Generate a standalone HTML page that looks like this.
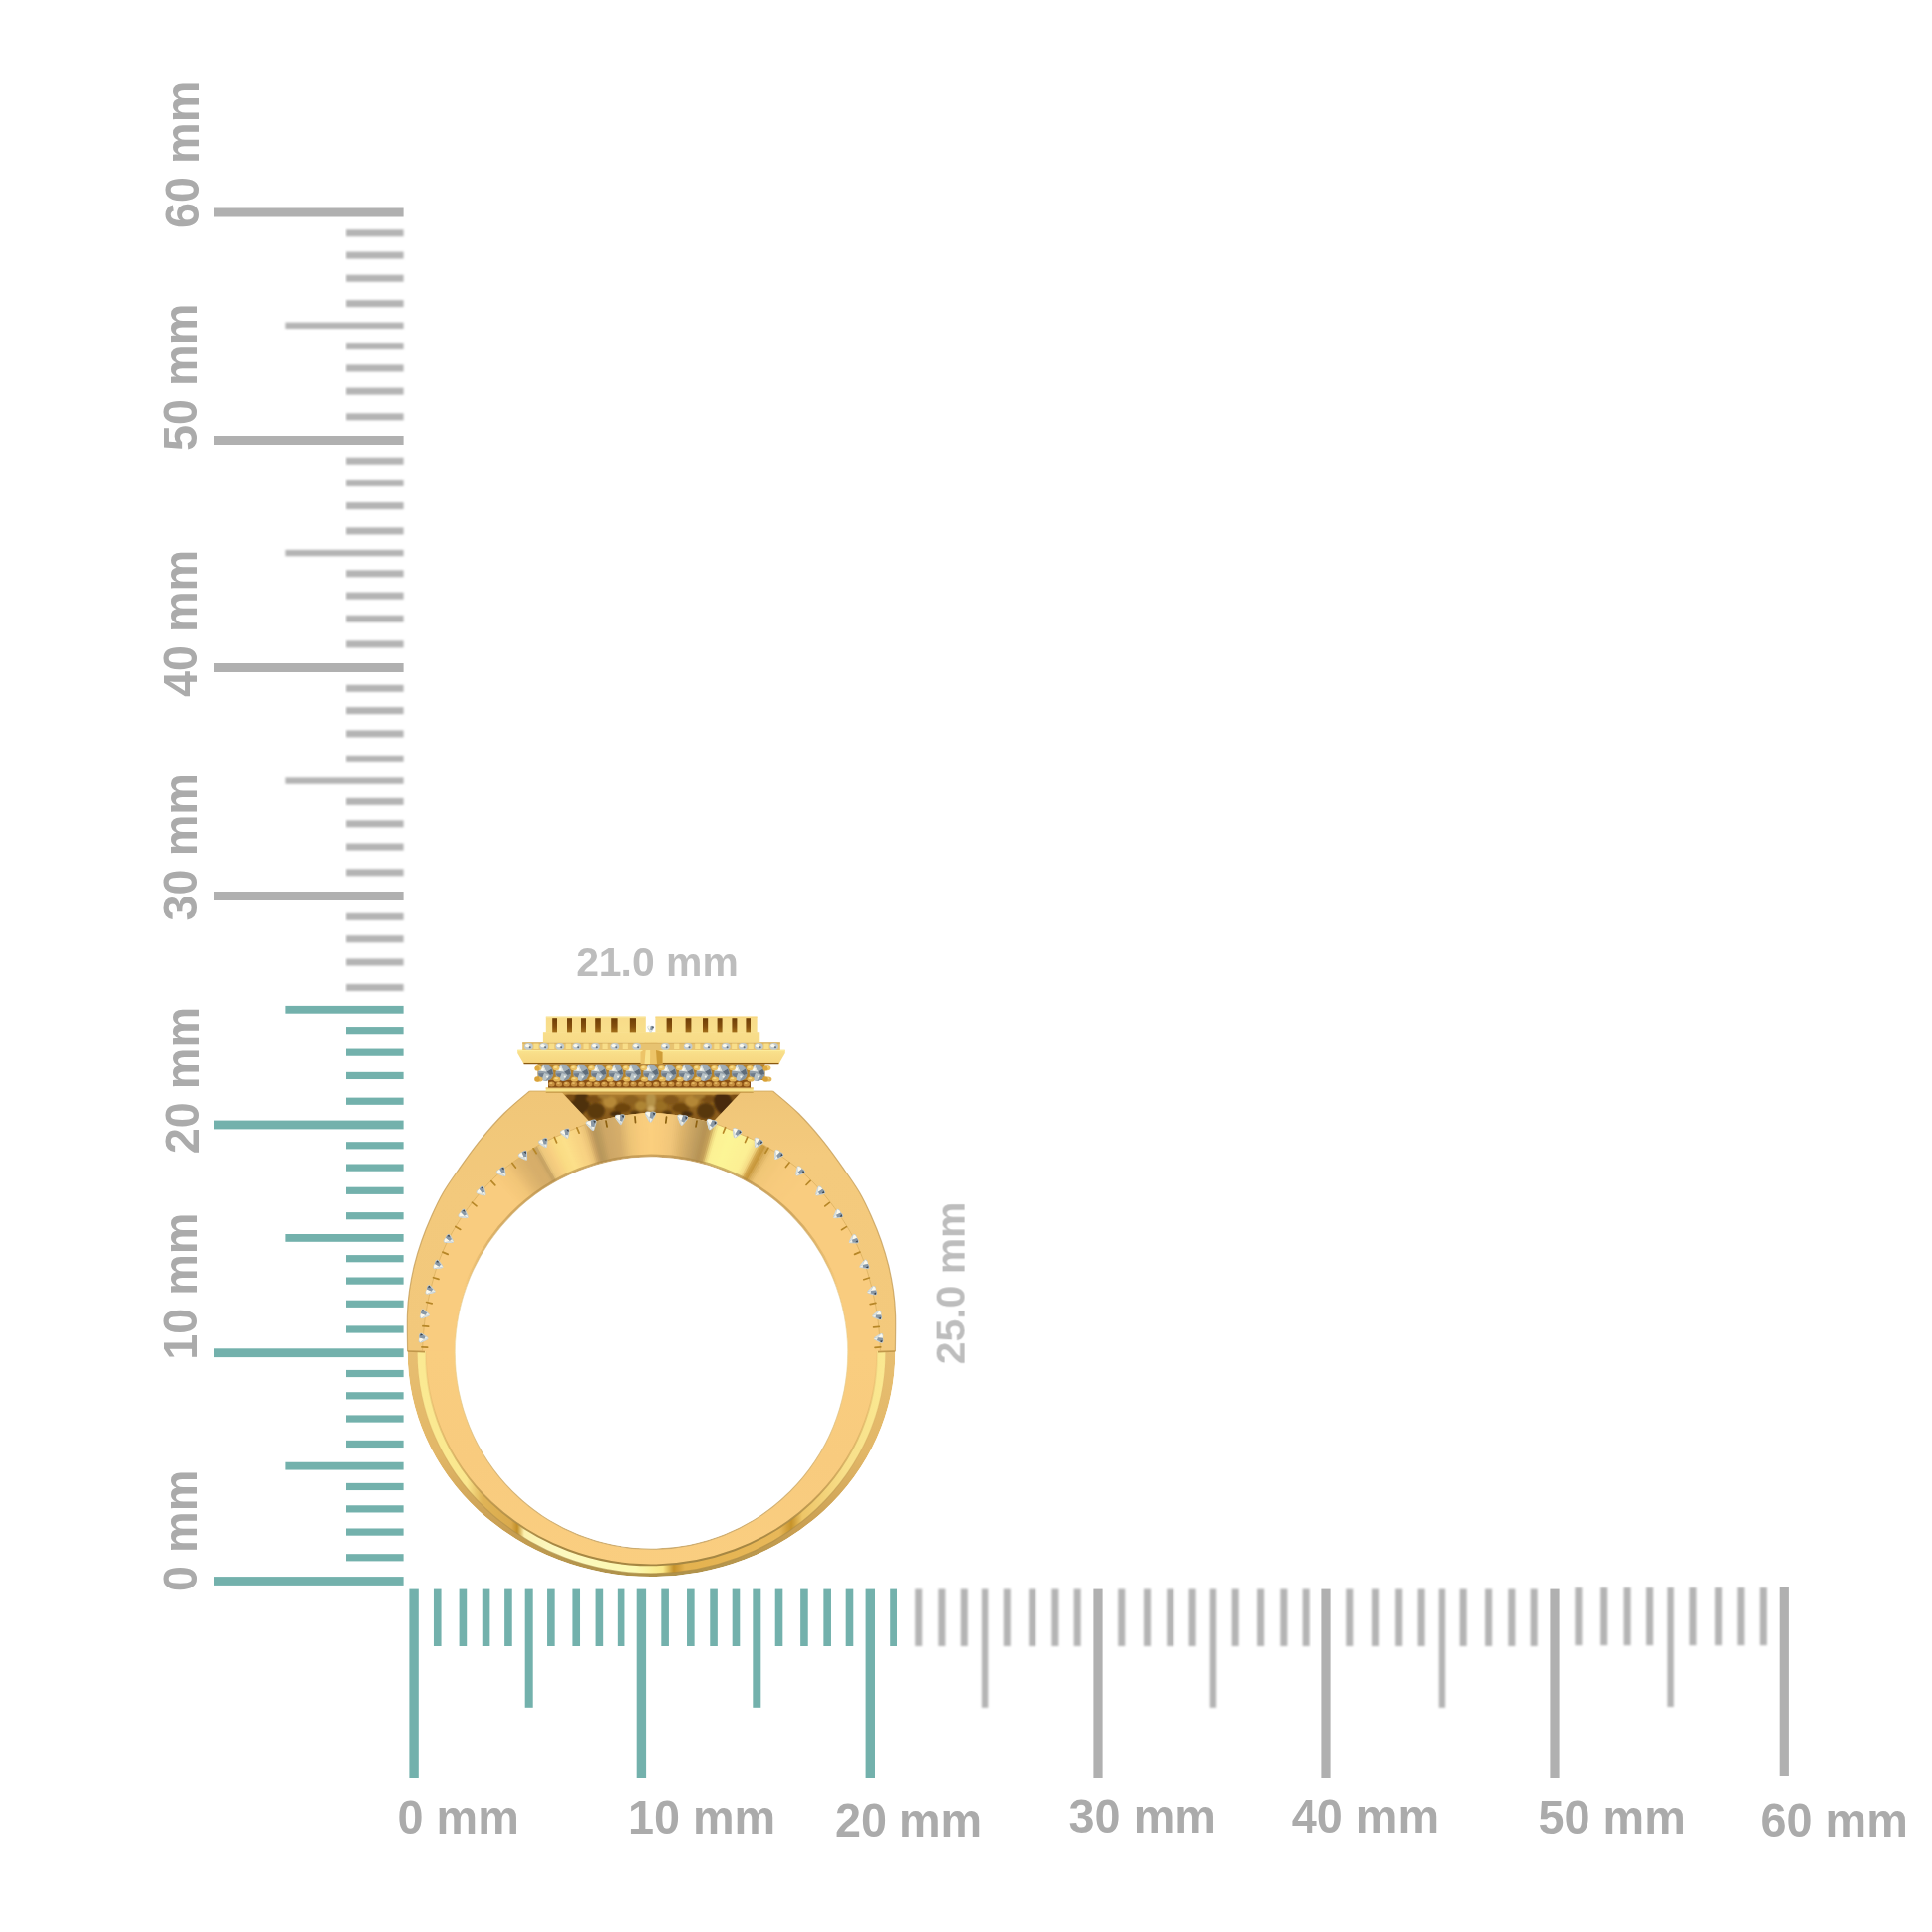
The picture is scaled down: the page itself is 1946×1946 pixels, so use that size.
<!DOCTYPE html>
<html lang="en"><head><meta charset="utf-8"><title>Ring dimensions</title>
<style>html,body{margin:0;padding:0;background:#fff}svg{display:block}</style></head>
<body>
<svg width="1946" height="1946" viewBox="0 0 1946 1946">
<defs>
<filter id="b0" x="-5%" y="-5%" width="110%" height="110%"><feGaussianBlur stdDeviation="0.55"/></filter>
<filter id="b1" x="-5%" y="-5%" width="110%" height="110%"><feGaussianBlur stdDeviation="1.0"/></filter>

<filter id="hedge" filterUnits="userSpaceOnUse" x="380" y="1000" width="560" height="620" color-interpolation-filters="sRGB"><feColorMatrix type="matrix" values="0.99 0 0 0 0  0 0.978 0 0 0  0 0 0.925 0 0  0 0 0 1 0"/></filter>
<filter id="rb3" x="-20%" y="-20%" width="140%" height="140%"><feGaussianBlur stdDeviation="3"/></filter>
<filter id="rb1" x="-20%" y="-20%" width="140%" height="140%"><feGaussianBlur stdDeviation="1.2"/></filter>
<filter id="rb05" x="-5%" y="-5%" width="110%" height="110%"><feGaussianBlur stdDeviation="0.5"/></filter>
<linearGradient id="gLface" x1="0" y1="1099" x2="0" y2="1361" gradientUnits="userSpaceOnUse">
 <stop offset="0" stop-color="#f2ca82"/><stop offset="0.4" stop-color="#f5ce86"/><stop offset="1" stop-color="#f4cd85"/></linearGradient>
<linearGradient id="gRface" x1="0" y1="1099" x2="0" y2="1361" gradientUnits="userSpaceOnUse">
 <stop offset="0" stop-color="#f1c982"/><stop offset="0.25" stop-color="#f6cf87"/><stop offset="1" stop-color="#f5ce86"/></linearGradient>
<linearGradient id="gLowFace" x1="0" y1="1361" x2="0" y2="1580" gradientUnits="userSpaceOnUse">
 <stop offset="0" stop-color="#fcd289"/><stop offset="0.5" stop-color="#fbd088"/><stop offset="1" stop-color="#fdd38a"/></linearGradient>
<linearGradient id="gBevel" x1="0" y1="1361" x2="0" y2="1588" gradientUnits="userSpaceOnUse">
 <stop offset="0" stop-color="#e9c27a"/><stop offset="0.45" stop-color="#e4bb70"/><stop offset="0.8" stop-color="#caa258"/><stop offset="1" stop-color="#b09450"/></linearGradient>
<linearGradient id="gRim" x1="0" y1="1165" x2="0" y2="1300" gradientUnits="userSpaceOnUse">
 <stop offset="0" stop-color="#b08a48" stop-opacity="0.6"/><stop offset="0.45" stop-color="#b08a48" stop-opacity="0.5"/><stop offset="1" stop-color="#b08a48" stop-opacity="0"/></linearGradient>
<linearGradient id="gHoleLine" x1="0" y1="1165" x2="0" y2="1560" gradientUnits="userSpaceOnUse">
 <stop offset="0" stop-color="#c0985a" stop-opacity="0.8"/><stop offset="0.3" stop-color="#d8b878" stop-opacity="0.5"/><stop offset="0.5" stop-color="#ecd8a0" stop-opacity="0.5"/>
 <stop offset="0.8" stop-color="#d0b078" stop-opacity="0.7"/><stop offset="1" stop-color="#c8a870" stop-opacity="0.9"/></linearGradient>
<linearGradient id="gLine" x1="0" y1="1361" x2="0" y2="1588" gradientUnits="userSpaceOnUse">
 <stop offset="0" stop-color="#d8b06a" stop-opacity="0.15"/><stop offset="0.45" stop-color="#c9a058" stop-opacity="0.55"/><stop offset="0.85" stop-color="#a88a48" stop-opacity="1"/><stop offset="1" stop-color="#a88a48" stop-opacity="1"/></linearGradient>

<linearGradient id="gStrip" x1="410" y1="0" x2="902" y2="0" gradientUnits="userSpaceOnUse"><stop offset="0.0000" stop-color="#fef0a0"/><stop offset="0.1220" stop-color="#fdec9a"/><stop offset="0.1545" stop-color="#e2b85e"/><stop offset="0.2134" stop-color="#dcae52"/><stop offset="0.2256" stop-color="#c4922c"/><stop offset="0.2398" stop-color="#fff6bc"/><stop offset="0.3049" stop-color="#ffffd0"/><stop offset="0.4675" stop-color="#ffffc0"/><stop offset="0.5244" stop-color="#fdec90"/><stop offset="0.5467" stop-color="#c8952e"/><stop offset="0.5691" stop-color="#e6b656"/><stop offset="0.7622" stop-color="#eabc60"/><stop offset="0.7866" stop-color="#c8962e"/><stop offset="0.8089" stop-color="#f0ca70"/><stop offset="0.8943" stop-color="#fae494"/><stop offset="1.0000" stop-color="#fef0a0"/></linearGradient>
<linearGradient id="gGallery" x1="0" y1="1100" x2="0" y2="1132" gradientUnits="userSpaceOnUse">
 <stop offset="0" stop-color="#b8893a"/><stop offset="0.3" stop-color="#946824"/><stop offset="1" stop-color="#86591a"/></linearGradient>
<linearGradient id="gPlate" x1="0" y1="1057" x2="0" y2="1072" gradientUnits="userSpaceOnUse">
 <stop offset="0" stop-color="#fdea9a"/><stop offset="0.4" stop-color="#fae192"/><stop offset="0.85" stop-color="#f8dc8c"/><stop offset="1" stop-color="#ecc878"/></linearGradient>
<linearGradient id="gComb" x1="0" y1="1024" x2="0" y2="1050" gradientUnits="userSpaceOnUse">
 <stop offset="0" stop-color="#fae094"/><stop offset="0.5" stop-color="#fbe497"/><stop offset="1" stop-color="#f9e092"/></linearGradient>
<linearGradient id="gSlot" x1="0" y1="1025" x2="0" y2="1040" gradientUnits="userSpaceOnUse">
 <stop offset="0" stop-color="#6e3f08"/><stop offset="0.6" stop-color="#86520e"/><stop offset="1" stop-color="#a8741e"/></linearGradient>

<clipPath id="cpBand"><path d="M425.6,1361.0C425.7,1358.8 425.7,1354.0 426.2,1348.0C426.7,1342.0 427.4,1333.1 428.6,1325.0C429.8,1316.9 431.5,1308.1 433.6,1299.5C435.7,1290.9 437.9,1282.2 441.0,1273.5C444.1,1264.8 447.8,1256.0 452.2,1247.5C456.6,1239.0 461.8,1230.5 467.4,1222.5C472.9,1214.5 479.1,1206.5 485.5,1199.3C491.9,1192.0 498.8,1185.0 505.8,1179.0C512.8,1173.0 520.5,1167.8 527.5,1163.0C534.5,1158.2 540.8,1154.2 547.8,1150.5C554.8,1146.8 562.1,1144.0 569.6,1140.8C577.1,1137.5 589.1,1132.6 593.0,1131.0C598.2,1129.9 614.0,1125.9 624.5,1124.2C635.0,1122.5 645.5,1121.0 656.0,1121.0C666.5,1121.0 677.0,1122.5 687.5,1124.2C698.0,1125.9 713.8,1129.9 719.0,1131.0C722.9,1132.6 734.9,1137.5 742.4,1140.8C749.9,1144.0 757.2,1146.8 764.2,1150.5C771.2,1154.2 777.5,1158.2 784.5,1163.0C791.5,1167.8 799.2,1173.0 806.2,1179.0C813.2,1185.0 820.1,1192.0 826.5,1199.3C832.9,1206.5 839.1,1214.5 844.6,1222.5C850.1,1230.5 855.4,1239.0 859.8,1247.5C864.2,1256.0 867.9,1264.8 871.0,1273.5C874.1,1282.2 876.3,1290.9 878.4,1299.5C880.5,1308.1 882.2,1316.9 883.4,1325.0C884.6,1333.1 885.3,1342.0 885.8,1348.0C886.3,1354.0 886.3,1358.8 886.4,1361.0L853.694,1361.0A197.7,197.7 0 0 0 656.0,1164.800A197.7,197.7 0 0 0 458.306,1361.0Z"/></clipPath>
<clipPath id="cpLow"><path d="M410.705,1361.0A245.3,225.5 0 0 0 656.0,1588.0A245.3,225.5 0 0 0 901.295,1361.0L853.694,1361.0A197.7,197.7 0 0 1 656.0,1560.2A197.7,197.7 0 0 1 458.306,1361.0Z"/></clipPath>
</defs>
<rect width="1946" height="1946" fill="#ffffff"/>
<g fill="#b4b4b4" filter="url(#b1)"><rect x="349.0" y="991.02" width="57.6" height="7.0"/><rect x="349.0" y="965.53" width="57.6" height="7.0"/><rect x="349.0" y="942.25" width="57.6" height="7.0"/><rect x="349.0" y="919.87" width="57.6" height="7.0"/><rect x="349.0" y="875.27" width="57.6" height="7.0"/><rect x="349.0" y="849.54" width="57.6" height="7.0"/><rect x="349.0" y="826.31" width="57.6" height="7.0"/><rect x="349.0" y="803.88" width="57.6" height="7.0"/><rect x="287.4" y="783.35" width="119.2" height="6.4"/><rect x="349.0" y="760.82" width="57.6" height="7.0"/><rect x="349.0" y="735.39" width="57.6" height="7.0"/><rect x="349.0" y="712.16" width="57.6" height="7.0"/><rect x="349.0" y="689.83" width="57.6" height="7.0"/><rect x="349.0" y="645.37" width="57.6" height="7.0"/><rect x="349.0" y="619.75" width="57.6" height="7.0"/><rect x="349.0" y="596.62" width="57.6" height="7.0"/><rect x="349.0" y="574.29" width="57.6" height="7.0"/><rect x="287.4" y="553.85" width="119.2" height="6.4"/><rect x="349.0" y="531.42" width="57.6" height="7.0"/><rect x="349.0" y="506.10" width="57.6" height="7.0"/><rect x="349.0" y="482.97" width="57.6" height="7.0"/><rect x="349.0" y="460.74" width="57.6" height="7.0"/><rect x="349.0" y="416.32" width="57.6" height="7.0"/><rect x="349.0" y="390.64" width="57.6" height="7.0"/><rect x="349.0" y="367.46" width="57.6" height="7.0"/><rect x="349.0" y="345.08" width="57.6" height="7.0"/><rect x="287.4" y="324.60" width="119.2" height="6.4"/><rect x="349.0" y="302.12" width="57.6" height="7.0"/><rect x="349.0" y="276.74" width="57.6" height="7.0"/><rect x="349.0" y="253.56" width="57.6" height="7.0"/><rect x="349.0" y="231.28" width="57.6" height="7.0"/></g>
<g fill="#b0b0b0" filter="url(#b0)"><rect x="216.0" y="898.00" width="190.6" height="9.0"/><rect x="216.0" y="668.00" width="190.6" height="9.0"/><rect x="216.0" y="439.00" width="190.6" height="9.0"/><rect x="216.0" y="209.50" width="190.6" height="9.0"/></g>
<g fill="#73b1ac" filter="url(#b0)"><rect x="216.0" y="1588.10" width="190.6" height="8.8"/><rect x="349.0" y="1565.19" width="57.6" height="7.2"/><rect x="349.0" y="1539.48" width="57.6" height="7.2"/><rect x="349.0" y="1516.27" width="57.6" height="7.2"/><rect x="349.0" y="1493.86" width="57.6" height="7.2"/><rect x="287.4" y="1472.75" width="119.2" height="7.8"/><rect x="349.0" y="1450.84" width="57.6" height="7.2"/><rect x="349.0" y="1425.43" width="57.6" height="7.2"/><rect x="349.0" y="1402.22" width="57.6" height="7.2"/><rect x="349.0" y="1379.91" width="57.6" height="7.2"/><rect x="216.0" y="1358.30" width="190.6" height="8.8"/><rect x="349.0" y="1335.40" width="57.6" height="7.2"/><rect x="349.0" y="1309.70" width="57.6" height="7.2"/><rect x="349.0" y="1286.50" width="57.6" height="7.2"/><rect x="349.0" y="1264.10" width="57.6" height="7.2"/><rect x="287.4" y="1243.00" width="119.2" height="7.8"/><rect x="349.0" y="1221.10" width="57.6" height="7.2"/><rect x="349.0" y="1195.70" width="57.6" height="7.2"/><rect x="349.0" y="1172.50" width="57.6" height="7.2"/><rect x="349.0" y="1150.20" width="57.6" height="7.2"/><rect x="216.0" y="1128.60" width="190.6" height="8.8"/><rect x="349.0" y="1105.62" width="57.6" height="7.2"/><rect x="349.0" y="1079.83" width="57.6" height="7.2"/><rect x="349.0" y="1056.55" width="57.6" height="7.2"/><rect x="349.0" y="1034.07" width="57.6" height="7.2"/><rect x="287.4" y="1012.90" width="119.2" height="7.8"/></g>
<g fill="#b4b4b4" filter="url(#b1)"><rect x="922.20" y="1600.6" width="7.0" height="57.4"/><rect x="945.40" y="1600.6" width="7.0" height="57.4"/><rect x="967.80" y="1600.6" width="7.0" height="57.4"/><rect x="988.90" y="1600.6" width="6.4" height="119.2"/><rect x="1010.80" y="1600.6" width="7.0" height="57.4"/><rect x="1036.20" y="1600.6" width="7.0" height="57.4"/><rect x="1059.40" y="1600.6" width="7.0" height="57.4"/><rect x="1081.70" y="1600.6" width="7.0" height="57.4"/><rect x="1126.23" y="1600.6" width="7.0" height="57.4"/><rect x="1151.96" y="1600.6" width="7.0" height="57.4"/><rect x="1175.19" y="1600.6" width="7.0" height="57.4"/><rect x="1197.62" y="1600.6" width="7.0" height="57.4"/><rect x="1218.75" y="1600.6" width="6.4" height="119.2"/><rect x="1240.68" y="1600.6" width="7.0" height="57.4"/><rect x="1266.11" y="1600.6" width="7.0" height="57.4"/><rect x="1289.34" y="1600.6" width="7.0" height="57.4"/><rect x="1311.67" y="1600.6" width="7.0" height="57.4"/><rect x="1356.23" y="1600.6" width="7.0" height="57.4"/><rect x="1381.96" y="1600.6" width="7.0" height="57.4"/><rect x="1405.19" y="1600.6" width="7.0" height="57.4"/><rect x="1427.62" y="1600.6" width="7.0" height="57.4"/><rect x="1448.75" y="1600.6" width="6.4" height="119.2"/><rect x="1470.68" y="1600.6" width="7.0" height="57.4"/><rect x="1496.11" y="1600.6" width="7.0" height="57.4"/><rect x="1519.34" y="1600.6" width="7.0" height="57.4"/><rect x="1541.67" y="1600.6" width="7.0" height="57.4"/><rect x="1586.37" y="1599.0" width="7.0" height="58.2"/><rect x="1612.24" y="1599.0" width="7.0" height="58.2"/><rect x="1635.61" y="1599.0" width="7.0" height="58.2"/><rect x="1658.16" y="1599.0" width="7.0" height="58.2"/><rect x="1679.41" y="1599.0" width="6.4" height="120.0"/><rect x="1701.46" y="1599.0" width="7.0" height="58.2"/><rect x="1727.04" y="1599.0" width="7.0" height="58.2"/><rect x="1750.40" y="1599.0" width="7.0" height="58.2"/><rect x="1772.86" y="1599.0" width="7.0" height="58.2"/></g>
<g fill="#b0b0b0" filter="url(#b0)"><rect x="1101.40" y="1600.6" width="9.2" height="190.4"/><rect x="1331.40" y="1600.6" width="9.2" height="190.4"/><rect x="1561.40" y="1600.6" width="9.2" height="190.4"/><rect x="1792.70" y="1599.0" width="9.2" height="190.0"/></g>
<g fill="#73b1ac" filter="url(#b0)"><rect x="412.40" y="1600.6" width="9.4" height="190.4"/><rect x="436.96" y="1600.6" width="7.6" height="57.4"/><rect x="462.61" y="1600.6" width="7.6" height="57.4"/><rect x="485.77" y="1600.6" width="7.6" height="57.4"/><rect x="508.13" y="1600.6" width="7.6" height="57.4"/><rect x="528.70" y="1600.6" width="8.0" height="119.2"/><rect x="551.06" y="1600.6" width="7.6" height="57.4"/><rect x="576.42" y="1600.6" width="7.6" height="57.4"/><rect x="599.58" y="1600.6" width="7.6" height="57.4"/><rect x="621.84" y="1600.6" width="7.6" height="57.4"/><rect x="641.70" y="1600.6" width="9.4" height="190.4"/><rect x="666.32" y="1600.6" width="7.6" height="57.4"/><rect x="692.04" y="1600.6" width="7.6" height="57.4"/><rect x="715.26" y="1600.6" width="7.6" height="57.4"/><rect x="737.68" y="1600.6" width="7.6" height="57.4"/><rect x="758.30" y="1600.6" width="8.0" height="119.2"/><rect x="780.72" y="1600.6" width="7.6" height="57.4"/><rect x="806.14" y="1600.6" width="7.6" height="57.4"/><rect x="829.36" y="1600.6" width="7.6" height="57.4"/><rect x="851.68" y="1600.6" width="7.6" height="57.4"/><rect x="871.60" y="1600.6" width="9.4" height="190.4"/><rect x="896.20" y="1600.6" width="7.6" height="57.4"/></g>
<g font-family="'Liberation Sans', Arial, Helvetica, sans-serif" font-weight="700" font-size="46.8" fill="#ababab" filter="url(#b0)">
<text transform="translate(400.53,1847.40) scale(1,1.035)">0 mm</text>
<text transform="translate(632.89,1847.40) scale(1,1.035)">10 mm</text>
<text transform="translate(840.88,1849.50) scale(1,1.035)">20 mm</text>
<text transform="translate(1076.60,1846.40) scale(1,1.035)">30 mm</text>
<text transform="translate(1300.76,1846.40) scale(1,1.035)">40 mm</text>
<text transform="translate(1549.56,1847.00) scale(1,1.035)">50 mm</text>
<text transform="translate(1773.53,1849.50) scale(1,1.035)">60 mm</text>
<text transform="translate(200.20,229.97) rotate(-90) scale(1,1.035)">60 mm</text>
<text transform="translate(198.40,453.94) rotate(-90) scale(1,1.035)">50 mm</text>
<text transform="translate(198.00,702.04) rotate(-90) scale(1,1.035)">40 mm</text>
<text transform="translate(198.00,927.40) rotate(-90) scale(1,1.035)">30 mm</text>
<text transform="translate(199.80,1162.22) rotate(-90) scale(1,1.035)">20 mm</text>
<text transform="translate(198.40,1369.81) rotate(-90) scale(1,1.035)">10 mm</text>
<text transform="translate(198.00,1602.97) rotate(-90) scale(1,1.035)">0 mm</text>
</g>
<g font-family="'Liberation Sans', Arial, Helvetica, sans-serif" font-weight="700" font-size="40.9" fill="#bdbdbd" filter="url(#b0)">
<text x="580.14" y="982.6">21.0 mm</text>
<text transform="translate(971.6,1374.26) rotate(-90)">25.0 mm</text>
</g>
<g id="ring" filter="url(#hedge)">
<clipPath id="cpGal"><path d="M564.0,1099.6 L751.0,1099.6 L719.0,1131.0 L687.5,1124.2 L656.0,1121.0 L624.5,1124.2 L593.0,1131.0Z"/></clipPath>
<path d="M564.0,1099.6 L751.0,1099.6 L719.0,1131.0 L687.5,1124.2 L656.0,1121.0 L624.5,1124.2 L593.0,1131.0Z" fill="url(#gGallery)"/>
<g clip-path="url(#cpGal)"><g filter="url(#rb1)">
<ellipse cx="583" cy="1112" rx="10" ry="13" fill="#4f300a" transform="rotate(38 583 1112)"/>
<ellipse cx="600" cy="1119" rx="9" ry="8" fill="#5c3a0e" transform="rotate(0 600 1119)"/>
<ellipse cx="598" cy="1107" rx="8" ry="4" fill="#7a5014" transform="rotate(0 598 1107)"/>
<ellipse cx="574" cy="1105" rx="5" ry="5" fill="#7a5012" transform="rotate(0 574 1105)"/>
<ellipse cx="614" cy="1110" rx="7" ry="6" fill="#b88c3c" transform="rotate(0 614 1110)"/>
<ellipse cx="627" cy="1116" rx="9" ry="5" fill="#6e4710" transform="rotate(0 627 1116)"/>
<ellipse cx="636" cy="1108" rx="8" ry="5" fill="#8c6220" transform="rotate(0 636 1108)"/>
<ellipse cx="646" cy="1114" rx="6" ry="5" fill="#b08838" transform="rotate(0 646 1114)"/>
<ellipse cx="656" cy="1108" rx="5" ry="9" fill="#b89650" transform="rotate(0 656 1108)"/>
<ellipse cx="656" cy="1117" rx="4" ry="3" fill="#d2b270" transform="rotate(0 656 1117)"/>
<ellipse cx="666" cy="1114" rx="6" ry="5" fill="#9c7228" transform="rotate(0 666 1114)"/>
<ellipse cx="676" cy="1108" rx="8" ry="5" fill="#83591a" transform="rotate(0 676 1108)"/>
<ellipse cx="686" cy="1116" rx="9" ry="5" fill="#6e4710" transform="rotate(0 686 1116)"/>
<ellipse cx="697" cy="1109" rx="7" ry="6" fill="#b68a3a" transform="rotate(0 697 1109)"/>
<ellipse cx="711" cy="1119" rx="9" ry="8" fill="#58370c" transform="rotate(0 711 1119)"/>
<ellipse cx="714" cy="1107" rx="8" ry="4" fill="#7a5014" transform="rotate(0 714 1107)"/>
<ellipse cx="730" cy="1112" rx="10" ry="13" fill="#4a2c0a" transform="rotate(-38 730 1112)"/>
<ellipse cx="741" cy="1105" rx="5" ry="5" fill="#7a5012" transform="rotate(0 741 1105)"/>
<ellipse cx="620" cy="1122" rx="6" ry="3" fill="#4a2e08" transform="rotate(0 620 1122)"/>
<ellipse cx="692" cy="1122" rx="6" ry="3" fill="#4a2e08" transform="rotate(0 692 1122)"/>
<ellipse cx="640" cy="1121" rx="5" ry="2.5" fill="#5a3a0c" transform="rotate(0 640 1121)"/>
<ellipse cx="672" cy="1121" rx="5" ry="2.5" fill="#5a3a0c" transform="rotate(0 672 1121)"/>
<ellipse cx="608" cy="1104" rx="6" ry="3" fill="#a57c34" transform="rotate(0 608 1104)"/>
<ellipse cx="704" cy="1104" rx="6" ry="3" fill="#a57c34" transform="rotate(0 704 1104)"/>
</g>
<rect x="560" y="1099.6" width="195" height="3.0" fill="#d2a552" opacity="0.85"/>
</g>
<path d="M533.3,1099.1C529.0,1102.8 516.1,1113.1 507.7,1121.5C499.3,1129.9 490.4,1140.2 482.8,1149.6C475.2,1159.0 468.1,1169.2 462.1,1177.8C456.1,1186.4 451.2,1193.2 446.6,1201.0C442.1,1208.8 438.4,1216.7 434.8,1224.8C431.2,1232.9 427.7,1241.4 424.8,1249.7C421.9,1258.0 419.4,1266.2 417.4,1274.5C415.4,1282.8 413.8,1291.0 412.6,1299.4C411.4,1307.8 410.7,1314.7 410.4,1325.0C410.1,1335.3 410.6,1355.0 410.6,1361.0L425.6,1361.0 L426.2,1348.0 L428.6,1325.0 L433.6,1299.5 L441.0,1273.5 L452.2,1247.5 L467.4,1222.5 L485.5,1199.3 L505.8,1179.0 L527.5,1163.0 L547.8,1150.5 L569.6,1140.8 L593.0,1131.0 L592.4,1128.6 L564.6,1099.1Z" fill="url(#gLface)"/>
<path d="M778.7,1099.1C783.0,1102.8 795.9,1113.1 804.3,1121.5C812.7,1129.9 821.6,1140.2 829.2,1149.6C836.8,1159.0 843.9,1169.2 849.9,1177.8C855.9,1186.4 860.8,1193.2 865.4,1201.0C870.0,1208.8 873.6,1216.7 877.2,1224.8C880.8,1232.9 884.3,1241.4 887.2,1249.7C890.1,1258.0 892.6,1266.2 894.6,1274.5C896.6,1282.8 898.2,1291.0 899.4,1299.4C900.6,1307.8 901.3,1314.7 901.6,1325.0C901.9,1335.3 901.4,1355.0 901.4,1361.0L886.4,1361.0 L885.8,1348.0 L883.4,1325.0 L878.4,1299.5 L871.0,1273.5 L859.8,1247.5 L844.6,1222.5 L826.5,1199.3 L806.2,1179.0 L784.5,1163.0 L764.2,1150.5 L742.4,1140.8 L719.0,1131.0 L719.6,1128.6 L747.4,1099.1Z" fill="url(#gRface)"/>
<path d="M533.3,1099.1C529.0,1102.8 516.1,1113.1 507.7,1121.5C499.3,1129.9 490.4,1140.2 482.8,1149.6C475.2,1159.0 468.1,1169.2 462.1,1177.8C456.1,1186.4 451.2,1193.2 446.6,1201.0C442.1,1208.8 438.4,1216.7 434.8,1224.8C431.2,1232.9 427.7,1241.4 424.8,1249.7C421.9,1258.0 419.4,1266.2 417.4,1274.5C415.4,1282.8 413.8,1291.0 412.6,1299.4C411.4,1307.8 410.7,1314.7 410.4,1325.0C410.1,1335.3 410.6,1355.0 410.6,1361.0" fill="none" stroke="#c29a56" stroke-width="1.2" opacity="0.7"/>
<path d="M778.7,1099.1C783.0,1102.8 795.9,1113.1 804.3,1121.5C812.7,1129.9 821.6,1140.2 829.2,1149.6C836.8,1159.0 843.9,1169.2 849.9,1177.8C855.9,1186.4 860.8,1193.2 865.4,1201.0C870.0,1208.8 873.6,1216.7 877.2,1224.8C880.8,1232.9 884.3,1241.4 887.2,1249.7C890.1,1258.0 892.6,1266.2 894.6,1274.5C896.6,1282.8 898.2,1291.0 899.4,1299.4C900.6,1307.8 901.3,1314.7 901.6,1325.0C901.9,1335.3 901.4,1355.0 901.4,1361.0" fill="none" stroke="#c29a56" stroke-width="1.2" opacity="0.7"/>
<path d="M533.3,1099.1L564.6,1099.1M778.7,1099.1L747.4,1099.1" fill="none" stroke="#d8b46e" stroke-width="1.0"/>
<path d="M425.6,1361.0C425.7,1358.8 425.7,1354.0 426.2,1348.0C426.7,1342.0 427.4,1333.1 428.6,1325.0C429.8,1316.9 431.5,1308.1 433.6,1299.5C435.7,1290.9 437.9,1282.2 441.0,1273.5C444.1,1264.8 447.8,1256.0 452.2,1247.5C456.6,1239.0 461.8,1230.5 467.4,1222.5C472.9,1214.5 479.1,1206.5 485.5,1199.3C491.9,1192.0 498.8,1185.0 505.8,1179.0C512.8,1173.0 520.5,1167.8 527.5,1163.0C534.5,1158.2 540.8,1154.2 547.8,1150.5C554.8,1146.8 562.1,1144.0 569.6,1140.8C577.1,1137.5 589.1,1132.6 593.0,1131.0C598.2,1129.9 614.0,1125.9 624.5,1124.2C635.0,1122.5 645.5,1121.0 656.0,1121.0C666.5,1121.0 677.0,1122.5 687.5,1124.2C698.0,1125.9 713.8,1129.9 719.0,1131.0C722.9,1132.6 734.9,1137.5 742.4,1140.8C749.9,1144.0 757.2,1146.8 764.2,1150.5C771.2,1154.2 777.5,1158.2 784.5,1163.0C791.5,1167.8 799.2,1173.0 806.2,1179.0C813.2,1185.0 820.1,1192.0 826.5,1199.3C832.9,1206.5 839.1,1214.5 844.6,1222.5C850.1,1230.5 855.4,1239.0 859.8,1247.5C864.2,1256.0 867.9,1264.8 871.0,1273.5C874.1,1282.2 876.3,1290.9 878.4,1299.5C880.5,1308.1 882.2,1316.9 883.4,1325.0C884.6,1333.1 885.3,1342.0 885.8,1348.0C886.3,1354.0 886.3,1358.8 886.4,1361.0L853.694,1361.0A197.7,197.7 0 0 0 656.0,1164.800A197.7,197.7 0 0 0 458.306,1361.0Z" fill="#fcd189"/>
<g clip-path="url(#cpBand)">
<g filter="url(#rb05)"><path d="M528.9,1221.3L480.7,1167.8L483.1,1165.7L530.6,1219.8Z" fill="#fbd088"/><path d="M530.1,1220.2L482.4,1166.3L484.8,1164.2L531.9,1218.7Z" fill="#fad087"/><path d="M531.3,1219.1L484.1,1164.8L486.5,1162.7L533.1,1217.6Z" fill="#f9ce86"/><path d="M532.6,1218.0L485.8,1163.3L488.3,1161.2L534.4,1216.5Z" fill="#f8ce85"/><path d="M533.9,1217.0L487.6,1161.8L490.1,1159.8L535.7,1215.5Z" fill="#f7cc85"/><path d="M535.1,1215.9L489.3,1160.3L491.8,1158.3L536.9,1214.4Z" fill="#f6cc84"/><path d="M536.4,1214.8L491.1,1158.9L493.6,1156.9L538.2,1213.4Z" fill="#f5ca83"/><path d="M537.7,1213.8L492.9,1157.5L495.4,1155.5L539.5,1212.4Z" fill="#f4ca82"/><path d="M539.0,1212.8L494.7,1156.0L497.2,1154.1L540.9,1211.4Z" fill="#f2c881"/><path d="M540.3,1211.8L496.5,1154.6L499.1,1152.7L542.2,1210.4Z" fill="#efc57f"/><path d="M541.7,1210.8L498.3,1153.3L500.9,1151.3L543.5,1209.4Z" fill="#ecc27d"/><path d="M543.0,1209.8L500.2,1151.9L502.7,1150.0L544.9,1208.4Z" fill="#e9c07b"/><path d="M544.3,1208.8L502.0,1150.5L504.6,1148.7L546.2,1207.4Z" fill="#e6bd79"/><path d="M545.7,1207.8L503.9,1149.2L506.5,1147.4L547.6,1206.5Z" fill="#e3bb78"/><path d="M547.0,1206.9L505.7,1147.9L508.4,1146.1L548.9,1205.5Z" fill="#e1b977"/><path d="M548.4,1205.9L507.6,1146.6L510.3,1144.8L550.3,1204.6Z" fill="#dfb876"/><path d="M549.8,1205.0L509.5,1145.3L512.2,1143.5L551.7,1203.7Z" fill="#ddb675"/><path d="M551.1,1204.1L511.4,1144.0L514.1,1142.3L553.1,1202.8Z" fill="#dbb474"/><path d="M552.5,1203.2L513.3,1142.8L516.0,1141.0L554.5,1201.9Z" fill="#dab374"/><path d="M553.9,1202.3L515.2,1141.5L517.9,1139.8L555.9,1201.0Z" fill="#d9b273"/><path d="M555.3,1201.4L517.2,1140.3L519.9,1138.6L557.3,1200.2Z" fill="#d9b273"/><path d="M556.7,1200.5L519.1,1139.1L521.8,1137.5L558.7,1199.3Z" fill="#d9b273"/><path d="M558.1,1199.6L521.1,1137.9L523.8,1136.3L560.1,1198.5Z" fill="#d8b172"/><path d="M559.6,1198.8L523.0,1136.8L525.8,1135.1L561.6,1197.6Z" fill="#d3ae70"/><path d="M561.0,1198.0L525.0,1135.6L527.8,1134.0L563.0,1196.8Z" fill="#caa76b"/><path d="M562.4,1197.1L527.0,1134.5L529.8,1132.9L564.5,1196.0Z" fill="#ccaa6e"/><path d="M563.9,1196.3L529.0,1133.3L531.8,1131.8L565.9,1195.2Z" fill="#e6c380"/><path d="M565.3,1195.5L531.0,1132.2L533.8,1130.7L567.4,1194.4Z" fill="#f0cd87"/><path d="M566.8,1194.7L533.0,1131.2L535.8,1129.7L568.9,1193.7Z" fill="#f3cf88"/><path d="M568.3,1194.0L535.0,1130.1L537.9,1128.6L570.3,1192.9Z" fill="#f6d189"/><path d="M569.7,1193.2L537.1,1129.1L539.9,1127.6L571.8,1192.2Z" fill="#f8d38a"/><path d="M571.2,1192.5L539.1,1128.0L542.0,1126.6L573.3,1191.4Z" fill="#fad68c"/><path d="M572.7,1191.7L541.1,1127.0L544.0,1125.6L574.8,1190.7Z" fill="#fad98c"/><path d="M574.2,1191.0L543.2,1126.0L546.1,1124.7L576.3,1190.0Z" fill="#fcdc8e"/><path d="M575.7,1190.3L545.3,1125.0L548.2,1123.7L577.8,1189.3Z" fill="#fcdf8e"/><path d="M577.2,1189.6L547.4,1124.1L550.3,1122.8L579.3,1188.7Z" fill="#fde190"/><path d="M578.7,1188.9L549.4,1123.2L552.4,1121.9L580.8,1188.0Z" fill="#fee291"/><path d="M580.2,1188.3L551.5,1122.2L554.5,1121.0L582.4,1187.3Z" fill="#fee392"/><path d="M581.8,1187.6L553.6,1121.3L556.6,1120.1L583.9,1186.7Z" fill="#ffe494"/><path d="M583.3,1187.0L555.7,1120.4L558.7,1119.2L585.4,1186.1Z" fill="#ffe595"/><path d="M584.8,1186.3L557.9,1119.6L560.8,1118.4L587.0,1185.5Z" fill="#ffe394"/><path d="M586.4,1185.7L560.0,1118.7L563.0,1117.6L588.5,1184.9Z" fill="#fee193"/><path d="M587.9,1185.1L562.1,1117.9L565.1,1116.8L590.1,1184.3Z" fill="#fedf92"/><path d="M589.5,1184.5L564.2,1117.1L567.3,1116.0L591.6,1183.7Z" fill="#fddd91"/><path d="M591.0,1184.0L566.4,1116.3L569.4,1115.2L593.2,1183.2Z" fill="#fcdb90"/><path d="M592.6,1183.4L568.5,1115.5L571.6,1114.5L594.8,1182.6Z" fill="#fbd98e"/><path d="M594.1,1182.9L570.7,1114.8L573.7,1113.8L596.3,1182.1Z" fill="#fad88e"/><path d="M595.7,1182.3L572.9,1114.0L575.9,1113.0L597.9,1181.6Z" fill="#f9d68c"/><path d="M597.3,1181.8L575.0,1113.3L578.1,1112.4L599.5,1181.1Z" fill="#f6d28a"/><path d="M598.9,1181.3L577.2,1112.6L580.3,1111.7L601.1,1180.6Z" fill="#f2cd86"/><path d="M600.4,1180.8L579.4,1111.9L582.5,1111.0L602.7,1180.1Z" fill="#edc881"/><path d="M602.0,1180.3L581.6,1111.3L584.7,1110.4L604.3,1179.7Z" fill="#e2bc79"/><path d="M603.6,1179.9L583.8,1110.6L586.9,1109.8L605.9,1179.2Z" fill="#d4ae6f"/><path d="M605.2,1179.4L586.0,1110.0L589.1,1109.2L607.5,1178.8Z" fill="#c9a469"/><path d="M606.8,1179.0L588.2,1109.4L591.3,1108.6L609.1,1178.4Z" fill="#be9c64"/><path d="M608.4,1178.6L590.4,1108.8L593.5,1108.1L610.7,1178.0Z" fill="#ba9a63"/><path d="M610.0,1178.1L592.6,1108.3L595.7,1107.5L612.3,1177.6Z" fill="#bd9d64"/><path d="M611.6,1177.7L594.8,1107.7L598.0,1107.0L613.9,1177.2Z" fill="#c0a066"/><path d="M613.3,1177.4L597.1,1107.2L600.2,1106.5L615.5,1176.9Z" fill="#c6a469"/><path d="M614.9,1177.0L599.3,1106.7L602.4,1106.0L617.1,1176.5Z" fill="#cca86c"/><path d="M616.5,1176.7L601.5,1106.2L604.7,1105.6L618.8,1176.2Z" fill="#d0ab6e"/><path d="M618.1,1176.3L603.8,1105.8L606.9,1105.1L620.4,1175.9Z" fill="#d1ac6f"/><path d="M619.7,1176.0L606.0,1105.3L609.2,1104.7L622.0,1175.6Z" fill="#d2ad70"/><path d="M621.4,1175.7L608.3,1104.9L611.4,1104.3L623.7,1175.3Z" fill="#d3ae71"/><path d="M623.0,1175.4L610.5,1104.5L613.7,1103.9L625.3,1175.0Z" fill="#d4af72"/><path d="M624.6,1175.1L612.8,1104.1L615.9,1103.6L626.9,1174.7Z" fill="#d6b072"/><path d="M626.3,1174.8L615.0,1103.7L618.2,1103.2L628.6,1174.5Z" fill="#d7b173"/><path d="M627.9,1174.6L617.3,1103.4L620.4,1102.9L630.2,1174.3Z" fill="#d8b274"/><path d="M629.6,1174.3L619.5,1103.0L622.7,1102.6L631.9,1174.0Z" fill="#dcb676"/><path d="M631.2,1174.1L621.8,1102.7L625.0,1102.3L633.5,1173.8Z" fill="#e0ba78"/><path d="M632.8,1173.9L624.1,1102.5L627.2,1102.1L635.2,1173.6Z" fill="#e4be7a"/><path d="M634.5,1173.7L626.3,1102.2L629.5,1101.8L636.8,1173.5Z" fill="#e9c27d"/><path d="M636.1,1173.5L628.6,1101.9L631.8,1101.6L638.4,1173.3Z" fill="#edc67f"/><path d="M637.8,1173.4L630.9,1101.7L634.1,1101.4L640.1,1173.2Z" fill="#f0c980"/><path d="M639.4,1173.2L633.2,1101.5L636.4,1101.2L641.8,1173.0Z" fill="#f2ca82"/><path d="M641.1,1173.1L635.4,1101.3L638.6,1101.1L643.4,1172.9Z" fill="#f4cc82"/><path d="M642.7,1173.0L637.7,1101.1L640.9,1100.9L645.1,1172.8Z" fill="#f6cd84"/><path d="M644.4,1172.9L640.0,1101.0L643.2,1100.8L646.7,1172.7Z" fill="#f8cf84"/><path d="M646.1,1172.8L642.3,1100.9L645.5,1100.7L648.4,1172.7Z" fill="#fad086"/><path d="M647.7,1172.7L644.6,1100.7L647.8,1100.6L650.0,1172.6Z" fill="#fbd186"/><path d="M649.4,1172.6L646.9,1100.7L650.1,1100.6L651.7,1172.5Z" fill="#fcd287"/><path d="M651.0,1172.6L649.1,1100.6L652.3,1100.5L653.3,1172.5Z" fill="#fcd287"/><path d="M652.7,1172.5L651.4,1100.5L654.6,1100.5L655.0,1172.5Z" fill="#fdd387"/><path d="M654.3,1172.5L653.7,1100.5L656.9,1100.5L656.7,1172.5Z" fill="#fed488"/><path d="M656.0,1172.5L656.0,1100.5L659.2,1100.5L658.3,1172.5Z" fill="#fed488"/><path d="M657.7,1172.5L658.3,1100.5L661.5,1100.6L660.0,1172.5Z" fill="#fdd387"/><path d="M659.3,1172.5L660.6,1100.5L663.8,1100.6L661.6,1172.6Z" fill="#fcd287"/><path d="M661.0,1172.6L662.9,1100.6L666.1,1100.7L663.3,1172.6Z" fill="#fcd287"/><path d="M662.6,1172.6L665.1,1100.7L668.3,1100.8L665.0,1172.7Z" fill="#fbd186"/><path d="M664.3,1172.7L667.4,1100.7L670.6,1100.9L666.6,1172.8Z" fill="#fad086"/><path d="M665.9,1172.8L669.7,1100.9L672.9,1101.0L668.3,1172.9Z" fill="#f9cf86"/><path d="M667.6,1172.9L672.0,1101.0L675.2,1101.2L669.9,1173.0Z" fill="#f7ce85"/><path d="M669.3,1173.0L674.3,1101.1L677.5,1101.4L671.6,1173.1Z" fill="#f6cc85"/><path d="M670.9,1173.1L676.6,1101.3L679.7,1101.6L673.2,1173.3Z" fill="#f4cb84"/><path d="M672.6,1173.2L678.8,1101.5L682.0,1101.8L674.9,1173.4Z" fill="#f3ca84"/><path d="M674.2,1173.4L681.1,1101.7L684.3,1102.0L676.5,1173.6Z" fill="#f0c782"/><path d="M675.9,1173.5L683.4,1101.9L686.6,1102.3L678.2,1173.8Z" fill="#ecc47f"/><path d="M677.5,1173.7L685.7,1102.2L688.8,1102.6L679.8,1174.0Z" fill="#e8c07c"/><path d="M679.2,1173.9L687.9,1102.5L691.1,1102.9L681.5,1174.2Z" fill="#e4bd78"/><path d="M680.8,1174.1L690.2,1102.7L693.4,1103.2L683.1,1174.4Z" fill="#e0b975"/><path d="M682.4,1174.3L692.5,1103.0L695.6,1103.5L684.7,1174.7Z" fill="#ddb672"/><path d="M684.1,1174.6L694.7,1103.4L697.9,1103.9L686.4,1174.9Z" fill="#d9b370"/><path d="M685.7,1174.8L697.0,1103.7L700.1,1104.2L688.0,1175.2Z" fill="#d5b06f"/><path d="M687.4,1175.1L699.2,1104.1L702.4,1104.6L689.6,1175.5Z" fill="#d1ad6d"/><path d="M689.0,1175.4L701.5,1104.5L704.6,1105.1L691.3,1175.8Z" fill="#cdaa6c"/><path d="M690.6,1175.7L703.7,1104.9L706.9,1105.5L692.9,1176.1Z" fill="#caa76a"/><path d="M692.3,1176.0L706.0,1105.3L709.1,1105.9L694.5,1176.4Z" fill="#c6a468"/><path d="M693.9,1176.3L708.2,1105.8L711.4,1106.4L696.2,1176.8Z" fill="#c2a167"/><path d="M695.5,1176.7L710.5,1106.2L713.6,1106.9L697.8,1177.1Z" fill="#bf9e64"/><path d="M697.1,1177.0L712.7,1106.7L715.8,1107.4L699.4,1177.5Z" fill="#bc9b60"/><path d="M698.7,1177.4L714.9,1107.2L718.1,1108.0L701.0,1177.9Z" fill="#ba975d"/><path d="M700.4,1177.7L717.2,1107.7L720.3,1108.5L702.6,1178.3Z" fill="#ba975b"/><path d="M702.0,1178.1L719.4,1108.3L722.5,1109.1L704.2,1178.7Z" fill="#bf9c5d"/><path d="M703.6,1178.6L721.6,1108.8L724.7,1109.7L705.8,1179.1Z" fill="#c5a25f"/><path d="M705.2,1179.0L723.8,1109.4L726.9,1110.3L707.4,1179.6Z" fill="#d4b56c"/><path d="M706.8,1179.4L726.0,1110.0L729.1,1110.9L709.0,1180.0Z" fill="#ebd685"/><path d="M708.4,1179.9L728.2,1110.6L731.3,1111.6L710.6,1180.5Z" fill="#f7e994"/><path d="M710.0,1180.3L730.4,1111.3L733.5,1112.2L712.2,1181.0Z" fill="#fef59f"/><path d="M711.6,1180.8L732.6,1111.9L735.7,1112.9L713.8,1181.5Z" fill="#fff7a0"/><path d="M713.1,1181.3L734.8,1112.6L737.8,1113.6L715.3,1182.0Z" fill="#fff7a1"/><path d="M714.7,1181.8L737.0,1113.3L740.0,1114.3L716.9,1182.5Z" fill="#fff8a1"/><path d="M716.3,1182.3L739.1,1114.0L742.2,1115.1L718.5,1183.1Z" fill="#fff8a1"/><path d="M717.9,1182.9L741.3,1114.8L744.3,1115.8L720.0,1183.6Z" fill="#fff9a2"/><path d="M719.4,1183.4L743.5,1115.5L746.5,1116.6L721.6,1184.2Z" fill="#fffaa2"/><path d="M721.0,1184.0L745.6,1116.3L748.6,1117.4L723.2,1184.8Z" fill="#fffaa2"/><path d="M722.5,1184.5L747.8,1117.1L750.7,1118.2L724.7,1185.4Z" fill="#fff9a2"/><path d="M724.1,1185.1L749.9,1117.9L752.9,1119.1L726.3,1186.0Z" fill="#fff9a2"/><path d="M725.6,1185.7L752.0,1118.7L755.0,1119.9L727.8,1186.6Z" fill="#fff8a1"/><path d="M727.2,1186.3L754.1,1119.6L757.1,1120.8L729.3,1187.2Z" fill="#fff8a1"/><path d="M728.7,1187.0L756.3,1120.4L759.2,1121.7L730.8,1187.9Z" fill="#fff7a1"/><path d="M730.2,1187.6L758.4,1121.3L761.3,1122.6L732.4,1188.5Z" fill="#fff6a1"/><path d="M731.8,1188.3L760.5,1122.2L763.4,1123.5L733.9,1189.2Z" fill="#fff6a1"/><path d="M733.3,1188.9L762.6,1123.2L765.5,1124.5L735.4,1189.9Z" fill="#fff5a0"/><path d="M734.8,1189.6L764.6,1124.1L767.6,1125.4L736.9,1190.6Z" fill="#fff5a0"/><path d="M736.3,1190.3L766.7,1125.0L769.6,1126.4L738.4,1191.3Z" fill="#fff4a0"/><path d="M737.8,1191.0L768.8,1126.0L771.7,1127.4L739.9,1192.0Z" fill="#fef09d"/><path d="M739.3,1191.7L770.9,1127.0L773.7,1128.4L741.4,1192.8Z" fill="#fae997"/><path d="M740.8,1192.5L772.9,1128.0L775.8,1129.5L742.8,1193.5Z" fill="#f8e291"/><path d="M742.3,1193.2L774.9,1129.1L777.8,1130.5L744.3,1194.3Z" fill="#ecce7c"/><path d="M743.7,1194.0L777.0,1130.1L779.8,1131.6L745.8,1195.1Z" fill="#d8af59"/><path d="M745.2,1194.7L779.0,1131.2L781.8,1132.7L747.2,1195.8Z" fill="#cea147"/><path d="M746.7,1195.5L781.0,1132.2L783.8,1133.8L748.7,1196.6Z" fill="#ca9b40"/><path d="M748.1,1196.3L783.0,1133.3L785.8,1134.9L750.1,1197.5Z" fill="#d5aa56"/><path d="M749.6,1197.1L785.0,1134.5L787.8,1136.1L751.6,1198.3Z" fill="#deb669"/><path d="M751.0,1198.0L787.0,1135.6L789.8,1137.2L753.0,1199.1Z" fill="#e6be72"/><path d="M752.4,1198.8L789.0,1136.8L791.7,1138.4L754.4,1200.0Z" fill="#eec67b"/><path d="M753.9,1199.6L790.9,1137.9L793.7,1139.6L755.8,1200.8Z" fill="#f2ca80"/><path d="M755.3,1200.5L792.9,1139.1L795.6,1140.8L757.2,1201.7Z" fill="#f3cb81"/><path d="M756.7,1201.4L794.8,1140.3L797.5,1142.0L758.6,1202.6Z" fill="#f4cc82"/><path d="M758.1,1202.3L796.8,1141.5L799.5,1143.3L760.0,1203.5Z" fill="#f5cc83"/><path d="M759.5,1203.2L798.7,1142.8L801.4,1144.5L761.4,1204.4Z" fill="#f5cd83"/><path d="M760.9,1204.1L800.6,1144.0L803.3,1145.8L762.8,1205.4Z" fill="#f6cd84"/><path d="M762.2,1205.0L802.5,1145.3L805.2,1147.1L764.2,1206.3Z" fill="#f7ce85"/><path d="M763.6,1205.9L804.4,1146.6L807.0,1148.4L765.5,1207.2Z" fill="#f8cf86"/><path d="M765.0,1206.9L806.3,1147.9L808.9,1149.7L766.9,1208.2Z" fill="#f8cf86"/><path d="M766.3,1207.8L808.1,1149.2L810.7,1151.1L768.2,1209.2Z" fill="#f8cf86"/><path d="M767.7,1208.8L810.0,1150.5L812.6,1152.4L769.5,1210.2Z" fill="#f9cf87"/><path d="M769.0,1209.8L811.8,1151.9L814.4,1153.8L770.9,1211.2Z" fill="#f9d087"/><path d="M770.3,1210.8L813.7,1153.3L816.2,1155.2L772.2,1212.2Z" fill="#f9d087"/><path d="M771.7,1211.8L815.5,1154.6L818.0,1156.6L773.5,1213.2Z" fill="#fad087"/><path d="M773.0,1212.8L817.3,1156.0L819.8,1158.0L774.8,1214.2Z" fill="#fad087"/><path d="M774.3,1213.8L819.1,1157.5L821.6,1159.5L776.1,1215.3Z" fill="#fad088"/><path d="M775.6,1214.8L820.9,1158.9L823.4,1160.9L777.4,1216.3Z" fill="#fad088"/><path d="M776.9,1215.9L822.7,1160.3L825.1,1162.4L778.6,1217.4Z" fill="#fbd088"/><path d="M778.1,1217.0L824.4,1161.8L826.8,1163.9L779.9,1218.5Z" fill="#fbd088"/><path d="M779.4,1218.0L826.2,1163.3L828.6,1165.4L781.2,1219.5Z" fill="#fbd188"/><path d="M780.7,1219.1L827.9,1164.8L830.3,1166.9L782.4,1220.6Z" fill="#fcd189"/><path d="M781.9,1220.2L829.6,1166.3L832.0,1168.4L783.6,1221.7Z" fill="#fcd189"/></g>
<circle cx="656.0" cy="1362.5" r="198.79999999999998" fill="none" stroke="url(#gRim)" stroke-width="2.4" filter="url(#rb05)"/>
</g>
<g clip-path="url(#cpLow)">
<ellipse cx="656.0" cy="1362.5" rx="245.3" ry="225.5" fill="url(#gBevel)"/>
<ellipse cx="656.0" cy="1362.5" rx="235.5" ry="222.4" fill="url(#gStrip)"/>
<ellipse cx="656.0" cy="1362.5" rx="227.2" ry="213.9" fill="url(#gLowFace)"/>
<path d="M428.81,1361.0A227.2,213.9 0 0 0 656.0,1576.4A227.2,213.9 0 0 0 883.19,1361.0" fill="none" stroke="url(#gLine)" stroke-width="1.9"/>
<path d="M420.51,1361.0A235.5,222.4 0 0 0 656.0,1584.9A235.5,222.4 0 0 0 891.49,1361.0" fill="none" stroke="url(#gLine)" stroke-width="1.2" opacity="0.6"/>
</g>
<circle cx="656.0" cy="1362.5" r="197.7" fill="#ffffff"/>
<circle cx="656.0" cy="1362.5" r="197.7" fill="none" stroke="url(#gHoleLine)" stroke-width="1.3"/>
<path d="M410.6,1361.0L428,1361.6M884,1361.6L901.4,1361.0" stroke="#c29a50" stroke-width="1.6" fill="none"/>
<path d="M593.0,1131.0C589.1,1132.6 577.1,1137.5 569.6,1140.8C562.1,1144.0 554.8,1146.8 547.8,1150.5C540.8,1154.2 534.5,1158.2 527.5,1163.0C520.5,1167.8 512.8,1173.0 505.8,1179.0C498.8,1185.0 491.9,1192.0 485.5,1199.3C479.1,1206.5 472.9,1214.5 467.4,1222.5C461.8,1230.5 456.6,1239.0 452.2,1247.5C447.8,1256.0 444.1,1264.8 441.0,1273.5C437.9,1282.2 435.7,1290.9 433.6,1299.5C431.5,1308.1 429.8,1316.9 428.6,1325.0C427.4,1333.1 426.7,1342.0 426.2,1348.0C425.7,1354.0 425.7,1358.8 425.6,1361.0" fill="none" stroke="#e0b668" stroke-width="1.0" opacity="0.9"/>
<path d="M719.0,1131.0C722.9,1132.6 734.9,1137.5 742.4,1140.8C749.9,1144.0 757.2,1146.8 764.2,1150.5C771.2,1154.2 777.5,1158.2 784.5,1163.0C791.5,1167.8 799.2,1173.0 806.2,1179.0C813.2,1185.0 820.1,1192.0 826.5,1199.3C832.9,1206.5 839.1,1214.5 844.6,1222.5C850.1,1230.5 855.4,1239.0 859.8,1247.5C864.2,1256.0 867.9,1264.8 871.0,1273.5C874.1,1282.2 876.3,1290.9 878.4,1299.5C880.5,1308.1 882.2,1316.9 883.4,1325.0C884.6,1333.1 885.3,1342.0 885.8,1348.0C886.3,1354.0 886.3,1358.8 886.4,1361.0" fill="none" stroke="#e0b668" stroke-width="1.0" opacity="0.9"/>
<g filter="url(#rb05)">
<path d="M580.9,1135.9L583.1,1141.2" stroke="#b98a2c" stroke-width="1.7" stroke-linecap="round"/>
<path d="M558.3,1145.5L560.6,1150.8" stroke="#b98a2c" stroke-width="1.7" stroke-linecap="round"/>
<path d="M537.1,1156.8L540.2,1161.7" stroke="#b98a2c" stroke-width="1.7" stroke-linecap="round"/>
<path d="M515.9,1171.5L519.4,1176.1" stroke="#b98a2c" stroke-width="1.7" stroke-linecap="round"/>
<path d="M494.8,1189.7L498.8,1193.9" stroke="#b98a2c" stroke-width="1.7" stroke-linecap="round"/>
<path d="M475.4,1211.2L480.0,1214.8" stroke="#b98a2c" stroke-width="1.7" stroke-linecap="round"/>
<path d="M458.8,1235.5L463.8,1238.4" stroke="#b98a2c" stroke-width="1.7" stroke-linecap="round"/>
<path d="M445.9,1261.1L451.2,1263.4" stroke="#b98a2c" stroke-width="1.7" stroke-linecap="round"/>
<path d="M436.5,1286.7L442.0,1288.4" stroke="#b98a2c" stroke-width="1.7" stroke-linecap="round"/>
<path d="M429.6,1311.5L435.2,1312.8" stroke="#b98a2c" stroke-width="1.7" stroke-linecap="round"/>
<path d="M425.9,1335.7L431.7,1336.1" stroke="#b98a2c" stroke-width="1.7" stroke-linecap="round"/>
<path d="M424.9,1356.9L430.7,1357.1" stroke="#b98a2c" stroke-width="1.7" stroke-linecap="round"/>
<path d="M730.7,1135.7L728.5,1141.0" stroke="#b98a2c" stroke-width="1.7" stroke-linecap="round"/>
<path d="M752.9,1145.2L750.5,1150.5" stroke="#b98a2c" stroke-width="1.7" stroke-linecap="round"/>
<path d="M773.9,1156.3L770.9,1161.3" stroke="#b98a2c" stroke-width="1.7" stroke-linecap="round"/>
<path d="M795.0,1170.9L791.4,1175.5" stroke="#b98a2c" stroke-width="1.7" stroke-linecap="round"/>
<path d="M816.1,1189.4L812.0,1193.5" stroke="#b98a2c" stroke-width="1.7" stroke-linecap="round"/>
<path d="M835.3,1211.3L830.8,1214.9" stroke="#b98a2c" stroke-width="1.7" stroke-linecap="round"/>
<path d="M852.4,1235.6L847.5,1238.7" stroke="#b98a2c" stroke-width="1.7" stroke-linecap="round"/>
<path d="M865.9,1261.1L860.6,1263.4" stroke="#b98a2c" stroke-width="1.7" stroke-linecap="round"/>
<path d="M875.4,1287.0L869.8,1288.7" stroke="#b98a2c" stroke-width="1.7" stroke-linecap="round"/>
<path d="M881.9,1312.4L876.2,1313.6" stroke="#b98a2c" stroke-width="1.7" stroke-linecap="round"/>
<path d="M885.3,1336.4L879.6,1336.9" stroke="#b98a2c" stroke-width="1.7" stroke-linecap="round"/>
<path d="M886.8,1356.9L881.0,1357.3" stroke="#b98a2c" stroke-width="1.7" stroke-linecap="round"/>
<path d="M610.0,1129.2L611.1,1134.9" stroke="#8f6412" stroke-width="1.7" stroke-linecap="round"/>
<path d="M640.0,1124.9L640.5,1130.6" stroke="#8f6412" stroke-width="1.7" stroke-linecap="round"/>
<path d="M671.5,1125.1L670.8,1130.9" stroke="#8f6412" stroke-width="1.7" stroke-linecap="round"/>
<path d="M702.0,1129.1L701.0,1134.8" stroke="#8f6412" stroke-width="1.7" stroke-linecap="round"/>
<use href="#smdia" x="-6.4" y="-6.0" width="12.8" height="12.8" transform="translate(569.6,1141.6) rotate(-21)"/>
<use href="#smdia" x="-6.4" y="-6.0" width="12.8" height="12.8" transform="translate(547.8,1151.2) rotate(-27)"/>
<use href="#smdia" x="-6.4" y="-6.0" width="12.8" height="12.8" transform="translate(527.5,1164.0) rotate(-33)"/>
<use href="#smdia" x="-6.4" y="-6.0" width="12.8" height="12.8" transform="translate(505.6,1180.6) rotate(-40)"/>
<use href="#smdia" x="-6.4" y="-6.0" width="12.8" height="12.8" transform="translate(485.3,1200.3) rotate(-46)"/>
<use href="#smdia" x="-6.4" y="-6.0" width="12.8" height="12.8" transform="translate(467.1,1223.4) rotate(-54)"/>
<use href="#smdia" x="-6.4" y="-6.0" width="12.8" height="12.8" transform="translate(452.2,1248.6) rotate(-61)"/>
<use href="#smdia" x="-6.4" y="-6.0" width="12.8" height="12.8" transform="translate(441.4,1274.4) rotate(-68)"/>
<use href="#smdia" x="-6.4" y="-6.0" width="12.8" height="12.8" transform="translate(433.5,1299.6) rotate(-74)"/>
<use href="#smdia" x="-6.4" y="-6.0" width="12.8" height="12.8" transform="translate(427.6,1323.8) rotate(-80)"/>
<use href="#smdia" x="-6.4" y="-6.0" width="12.8" height="12.8" transform="translate(426.2,1347.8) rotate(-86)"/>
<use href="#smdia" x="-6.4" y="-6.0" width="12.8" height="12.8" transform="translate(741.7,1141.2) rotate(21)"/>
<use href="#smdia" x="-6.4" y="-6.0" width="12.8" height="12.8" transform="translate(763.2,1151.0) rotate(27)"/>
<use href="#smdia" x="-6.4" y="-6.0" width="12.8" height="12.8" transform="translate(783.5,1163.3) rotate(33)"/>
<use href="#smdia" x="-6.4" y="-6.0" width="12.8" height="12.8" transform="translate(805.2,1180.0) rotate(39)"/>
<use href="#smdia" x="-6.4" y="-6.0" width="12.8" height="12.8" transform="translate(825.5,1200.3) rotate(46)"/>
<use href="#smdia" x="-6.4" y="-6.0" width="12.8" height="12.8" transform="translate(843.6,1223.5) rotate(53)"/>
<use href="#smdia" x="-6.4" y="-6.0" width="12.8" height="12.8" transform="translate(859.6,1248.8) rotate(61)"/>
<use href="#smdia" x="-6.4" y="-6.0" width="12.8" height="12.8" transform="translate(870.4,1274.2) rotate(68)"/>
<use href="#smdia" x="-6.4" y="-6.0" width="12.8" height="12.8" transform="translate(878.4,1300.3) rotate(74)"/>
<use href="#smdia" x="-6.4" y="-6.0" width="12.8" height="12.8" transform="translate(883.5,1325.0) rotate(81)"/>
<use href="#smdia" x="-6.4" y="-6.0" width="12.8" height="12.8" transform="translate(885.2,1348.0) rotate(86)"/>
<use href="#smdia" x="-7.2" y="-6.8" width="14.5" height="14.5" transform="translate(595.7,1133.0) rotate(-15)"/>
<use href="#smdia" x="-7.2" y="-6.8" width="14.5" height="14.5" transform="translate(624.7,1127.3) rotate(-8)"/>
<use href="#smdia" x="-7.2" y="-6.8" width="14.5" height="14.5" transform="translate(655.4,1124.4) rotate(-0)"/>
<use href="#smdia" x="-7.2" y="-6.8" width="14.5" height="14.5" transform="translate(687.3,1127.8) rotate(8)"/>
<use href="#smdia" x="-7.2" y="-6.8" width="14.5" height="14.5" transform="translate(716.3,1132.4) rotate(15)"/>
</g>
<symbol id="bigdia" viewBox="-9 -9 18 18" overflow="visible">
<ellipse cx="0" cy="0.3" rx="7.9" ry="8.3" fill="#93a2b6"/>
<path d="M-7.5,-2 L-2,-7.6 L1,-1 Z" fill="#dfe7f0"/>
<path d="M-7.6,1 L-1.5,0.5 L-3.8,7 Z" fill="#6f7f96"/>
<path d="M-1.5,0.5 L4.5,2.6 L0,8.4 L-3.8,7Z" fill="#b9c6d6"/>
<path d="M1,-1 L6,-4 L7.6,1.5 L4.5,2.6Z" fill="#5f6e84"/>
<path d="M-2,-7.6 L3.5,-7 L6,-4 L1,-1Z" fill="#a3b1c4"/>
<path d="M4.5,2.6 L7.6,1.5 L5.2,6.3 L0,8.4Z" fill="#8797ac"/>
<circle cx="-3.2" cy="-3.4" r="1.5" fill="#ffffff"/>
<circle cx="1.6" cy="4.2" r="1.1" fill="#f4f8fc"/>
</symbol>
<symbol id="smdia" viewBox="-5 -5 10 10" overflow="visible">
<path d="M-3.7,-1.6 Q-4.1,-3.9 -1.9,-3.7 Q0,-3.4 0.1,-3.4 Q2,-3.9 3.5,-3.2 Q4.3,-2 3.4,-0.6 L1.0,3.3 Q0,4.5 -1.0,3.3 Z" fill="#c5d2e2"/>
<path d="M-3.5,-2.4 Q-2,-3.8 0.1,-3.2 L-0.6,0.8 Z" fill="#ffffff"/>
<path d="M0.1,-3.2 Q2.4,-3.8 3.5,-2.4 L1.3,1.5 L-0.6,0.8Z" fill="#8a9bb3"/>
<path d="M-0.6,0.8 L1.3,1.5 L0,4.0 Z" fill="#f1f5fa"/>
<path d="M-3.5,-1.4 L-0.6,0.8 L-1.0,3.0Z" fill="#dbe4ef"/>
<path d="M1.7,-2.8 L3.4,-2.3 L2.4,-0.5Z" fill="#39424f"/>
</symbol>
<rect x="549.7" y="1095.4" width="209" height="4.9" fill="#fbe896"/>
<rect x="549.7" y="1095.4" width="209" height="1.2" fill="#e8c474"/>
<rect x="549.7" y="1099.6" width="209" height="1.0" fill="#b8893a"/>
<rect x="552" y="1087" width="204" height="8.6" fill="#8a5216"/>
<g filter="url(#rb05)">
<ellipse cx="555.5" cy="1091.9" rx="3.2" ry="2.5" fill="#c89244"/>
<ellipse cx="554.9" cy="1091.1" rx="1.5" ry="0.9" fill="#e8c070"/>
<ellipse cx="563.0" cy="1091.9" rx="3.2" ry="2.5" fill="#c89244"/>
<ellipse cx="562.4" cy="1091.1" rx="1.5" ry="0.9" fill="#e8c070"/>
<ellipse cx="570.6" cy="1091.9" rx="3.2" ry="2.5" fill="#c89244"/>
<ellipse cx="570.0" cy="1091.1" rx="1.5" ry="0.9" fill="#e8c070"/>
<ellipse cx="578.1" cy="1091.9" rx="3.2" ry="2.5" fill="#c89244"/>
<ellipse cx="577.5" cy="1091.1" rx="1.5" ry="0.9" fill="#e8c070"/>
<ellipse cx="585.7" cy="1091.9" rx="3.2" ry="2.5" fill="#c89244"/>
<ellipse cx="585.1" cy="1091.1" rx="1.5" ry="0.9" fill="#e8c070"/>
<ellipse cx="593.2" cy="1091.9" rx="3.2" ry="2.5" fill="#c89244"/>
<ellipse cx="592.6" cy="1091.1" rx="1.5" ry="0.9" fill="#e8c070"/>
<ellipse cx="600.8" cy="1091.9" rx="3.2" ry="2.5" fill="#c89244"/>
<ellipse cx="600.2" cy="1091.1" rx="1.5" ry="0.9" fill="#e8c070"/>
<ellipse cx="608.4" cy="1091.9" rx="3.2" ry="2.5" fill="#c89244"/>
<ellipse cx="607.8" cy="1091.1" rx="1.5" ry="0.9" fill="#e8c070"/>
<ellipse cx="615.9" cy="1091.9" rx="3.2" ry="2.5" fill="#c89244"/>
<ellipse cx="615.3" cy="1091.1" rx="1.5" ry="0.9" fill="#e8c070"/>
<ellipse cx="623.5" cy="1091.9" rx="3.2" ry="2.5" fill="#c89244"/>
<ellipse cx="622.9" cy="1091.1" rx="1.5" ry="0.9" fill="#e8c070"/>
<ellipse cx="631.0" cy="1091.9" rx="3.2" ry="2.5" fill="#c89244"/>
<ellipse cx="630.4" cy="1091.1" rx="1.5" ry="0.9" fill="#e8c070"/>
<ellipse cx="638.5" cy="1091.9" rx="3.2" ry="2.5" fill="#c89244"/>
<ellipse cx="637.9" cy="1091.1" rx="1.5" ry="0.9" fill="#e8c070"/>
<ellipse cx="646.1" cy="1091.9" rx="3.2" ry="2.5" fill="#c89244"/>
<ellipse cx="645.5" cy="1091.1" rx="1.5" ry="0.9" fill="#e8c070"/>
<ellipse cx="653.6" cy="1091.9" rx="3.2" ry="2.5" fill="#c89244"/>
<ellipse cx="653.0" cy="1091.1" rx="1.5" ry="0.9" fill="#e8c070"/>
<ellipse cx="661.2" cy="1091.9" rx="3.2" ry="2.5" fill="#c89244"/>
<ellipse cx="660.6" cy="1091.1" rx="1.5" ry="0.9" fill="#e8c070"/>
<ellipse cx="668.8" cy="1091.9" rx="3.2" ry="2.5" fill="#c89244"/>
<ellipse cx="668.1" cy="1091.1" rx="1.5" ry="0.9" fill="#e8c070"/>
<ellipse cx="676.3" cy="1091.9" rx="3.2" ry="2.5" fill="#c89244"/>
<ellipse cx="675.7" cy="1091.1" rx="1.5" ry="0.9" fill="#e8c070"/>
<ellipse cx="683.9" cy="1091.9" rx="3.2" ry="2.5" fill="#c89244"/>
<ellipse cx="683.2" cy="1091.1" rx="1.5" ry="0.9" fill="#e8c070"/>
<ellipse cx="691.4" cy="1091.9" rx="3.2" ry="2.5" fill="#c89244"/>
<ellipse cx="690.8" cy="1091.1" rx="1.5" ry="0.9" fill="#e8c070"/>
<ellipse cx="699.0" cy="1091.9" rx="3.2" ry="2.5" fill="#c89244"/>
<ellipse cx="698.4" cy="1091.1" rx="1.5" ry="0.9" fill="#e8c070"/>
<ellipse cx="706.5" cy="1091.9" rx="3.2" ry="2.5" fill="#c89244"/>
<ellipse cx="705.9" cy="1091.1" rx="1.5" ry="0.9" fill="#e8c070"/>
<ellipse cx="714.0" cy="1091.9" rx="3.2" ry="2.5" fill="#c89244"/>
<ellipse cx="713.4" cy="1091.1" rx="1.5" ry="0.9" fill="#e8c070"/>
<ellipse cx="721.6" cy="1091.9" rx="3.2" ry="2.5" fill="#c89244"/>
<ellipse cx="721.0" cy="1091.1" rx="1.5" ry="0.9" fill="#e8c070"/>
<ellipse cx="729.1" cy="1091.9" rx="3.2" ry="2.5" fill="#c89244"/>
<ellipse cx="728.5" cy="1091.1" rx="1.5" ry="0.9" fill="#e8c070"/>
<ellipse cx="736.7" cy="1091.9" rx="3.2" ry="2.5" fill="#c89244"/>
<ellipse cx="736.1" cy="1091.1" rx="1.5" ry="0.9" fill="#e8c070"/>
<ellipse cx="744.2" cy="1091.9" rx="3.2" ry="2.5" fill="#c89244"/>
<ellipse cx="743.6" cy="1091.1" rx="1.5" ry="0.9" fill="#e8c070"/>
<ellipse cx="751.8" cy="1091.9" rx="3.2" ry="2.5" fill="#c89244"/>
<ellipse cx="751.2" cy="1091.1" rx="1.5" ry="0.9" fill="#e8c070"/>
</g>
<rect x="541.5" y="1072.2" width="229" height="15.8" fill="#b8862e"/>
<g filter="url(#rb05)">
<use href="#bigdia" x="540.5" y="1071.4" width="18" height="18"/>
<use href="#bigdia" x="558.2" y="1071.4" width="18" height="18"/>
<use href="#bigdia" x="576.0" y="1071.4" width="18" height="18"/>
<use href="#bigdia" x="593.8" y="1071.4" width="18" height="18"/>
<use href="#bigdia" x="611.5" y="1071.4" width="18" height="18"/>
<use href="#bigdia" x="629.2" y="1071.4" width="18" height="18"/>
<use href="#bigdia" x="647.0" y="1071.4" width="18" height="18"/>
<use href="#bigdia" x="664.8" y="1071.4" width="18" height="18"/>
<use href="#bigdia" x="682.5" y="1071.4" width="18" height="18"/>
<use href="#bigdia" x="700.2" y="1071.4" width="18" height="18"/>
<use href="#bigdia" x="718.0" y="1071.4" width="18" height="18"/>
<use href="#bigdia" x="735.8" y="1071.4" width="18" height="18"/>
<use href="#bigdia" x="753.5" y="1071.4" width="18" height="18"/>
<ellipse cx="542.2" cy="1075.6" rx="3.4" ry="2.6" fill="#eec66c"/>
<ellipse cx="541.6" cy="1074.9" rx="1.8" ry="1.0" fill="#fbe496"/>
<ellipse cx="543.0" cy="1087.0" rx="3.6" ry="2.6" fill="#e6ba5e"/>
<ellipse cx="542.4" cy="1086.3" rx="1.8" ry="1.0" fill="#f8dc8a"/>
<ellipse cx="560.0" cy="1075.6" rx="3.4" ry="2.6" fill="#eec66c"/>
<ellipse cx="559.4" cy="1074.9" rx="1.8" ry="1.0" fill="#fbe496"/>
<ellipse cx="560.8" cy="1087.0" rx="3.6" ry="2.6" fill="#e6ba5e"/>
<ellipse cx="560.2" cy="1086.3" rx="1.8" ry="1.0" fill="#f8dc8a"/>
<ellipse cx="577.7" cy="1075.6" rx="3.4" ry="2.6" fill="#eec66c"/>
<ellipse cx="577.1" cy="1074.9" rx="1.8" ry="1.0" fill="#fbe496"/>
<ellipse cx="578.5" cy="1087.0" rx="3.6" ry="2.6" fill="#e6ba5e"/>
<ellipse cx="577.9" cy="1086.3" rx="1.8" ry="1.0" fill="#f8dc8a"/>
<ellipse cx="595.5" cy="1075.6" rx="3.4" ry="2.6" fill="#eec66c"/>
<ellipse cx="594.9" cy="1074.9" rx="1.8" ry="1.0" fill="#fbe496"/>
<ellipse cx="596.3" cy="1087.0" rx="3.6" ry="2.6" fill="#e6ba5e"/>
<ellipse cx="595.7" cy="1086.3" rx="1.8" ry="1.0" fill="#f8dc8a"/>
<ellipse cx="613.2" cy="1075.6" rx="3.4" ry="2.6" fill="#eec66c"/>
<ellipse cx="612.6" cy="1074.9" rx="1.8" ry="1.0" fill="#fbe496"/>
<ellipse cx="614.0" cy="1087.0" rx="3.6" ry="2.6" fill="#e6ba5e"/>
<ellipse cx="613.4" cy="1086.3" rx="1.8" ry="1.0" fill="#f8dc8a"/>
<ellipse cx="631.0" cy="1075.6" rx="3.4" ry="2.6" fill="#eec66c"/>
<ellipse cx="630.4" cy="1074.9" rx="1.8" ry="1.0" fill="#fbe496"/>
<ellipse cx="631.8" cy="1087.0" rx="3.6" ry="2.6" fill="#e6ba5e"/>
<ellipse cx="631.2" cy="1086.3" rx="1.8" ry="1.0" fill="#f8dc8a"/>
<ellipse cx="648.7" cy="1075.6" rx="3.4" ry="2.6" fill="#eec66c"/>
<ellipse cx="648.1" cy="1074.9" rx="1.8" ry="1.0" fill="#fbe496"/>
<ellipse cx="649.5" cy="1087.0" rx="3.6" ry="2.6" fill="#e6ba5e"/>
<ellipse cx="648.9" cy="1086.3" rx="1.8" ry="1.0" fill="#f8dc8a"/>
<ellipse cx="666.5" cy="1075.6" rx="3.4" ry="2.6" fill="#eec66c"/>
<ellipse cx="665.9" cy="1074.9" rx="1.8" ry="1.0" fill="#fbe496"/>
<ellipse cx="667.3" cy="1087.0" rx="3.6" ry="2.6" fill="#e6ba5e"/>
<ellipse cx="666.7" cy="1086.3" rx="1.8" ry="1.0" fill="#f8dc8a"/>
<ellipse cx="684.2" cy="1075.6" rx="3.4" ry="2.6" fill="#eec66c"/>
<ellipse cx="683.6" cy="1074.9" rx="1.8" ry="1.0" fill="#fbe496"/>
<ellipse cx="685.0" cy="1087.0" rx="3.6" ry="2.6" fill="#e6ba5e"/>
<ellipse cx="684.4" cy="1086.3" rx="1.8" ry="1.0" fill="#f8dc8a"/>
<ellipse cx="702.0" cy="1075.6" rx="3.4" ry="2.6" fill="#eec66c"/>
<ellipse cx="701.4" cy="1074.9" rx="1.8" ry="1.0" fill="#fbe496"/>
<ellipse cx="702.8" cy="1087.0" rx="3.6" ry="2.6" fill="#e6ba5e"/>
<ellipse cx="702.2" cy="1086.3" rx="1.8" ry="1.0" fill="#f8dc8a"/>
<ellipse cx="719.7" cy="1075.6" rx="3.4" ry="2.6" fill="#eec66c"/>
<ellipse cx="719.1" cy="1074.9" rx="1.8" ry="1.0" fill="#fbe496"/>
<ellipse cx="720.5" cy="1087.0" rx="3.6" ry="2.6" fill="#e6ba5e"/>
<ellipse cx="719.9" cy="1086.3" rx="1.8" ry="1.0" fill="#f8dc8a"/>
<ellipse cx="737.5" cy="1075.6" rx="3.4" ry="2.6" fill="#eec66c"/>
<ellipse cx="736.9" cy="1074.9" rx="1.8" ry="1.0" fill="#fbe496"/>
<ellipse cx="738.3" cy="1087.0" rx="3.6" ry="2.6" fill="#e6ba5e"/>
<ellipse cx="737.7" cy="1086.3" rx="1.8" ry="1.0" fill="#f8dc8a"/>
<ellipse cx="755.2" cy="1075.6" rx="3.4" ry="2.6" fill="#eec66c"/>
<ellipse cx="754.6" cy="1074.9" rx="1.8" ry="1.0" fill="#fbe496"/>
<ellipse cx="756.0" cy="1087.0" rx="3.6" ry="2.6" fill="#e6ba5e"/>
<ellipse cx="755.4" cy="1086.3" rx="1.8" ry="1.0" fill="#f8dc8a"/>
<ellipse cx="773.0" cy="1075.6" rx="3.4" ry="2.6" fill="#eec66c"/>
<ellipse cx="772.4" cy="1074.9" rx="1.8" ry="1.0" fill="#fbe496"/>
<ellipse cx="773.8" cy="1087.0" rx="3.6" ry="2.6" fill="#e6ba5e"/>
<ellipse cx="773.2" cy="1086.3" rx="1.8" ry="1.0" fill="#f8dc8a"/>
<circle cx="541.0" cy="1076.0" r="2.6" fill="#e0ad44"/><circle cx="541.0" cy="1087.0" r="2.8" fill="#dba63e"/>
<circle cx="771.0" cy="1076.0" r="2.6" fill="#e0ad44"/><circle cx="771.0" cy="1087.0" r="2.8" fill="#dba63e"/>
</g>
<path d="M521.2,1057.8L790.8,1057.8L790.8,1061L784.4,1072L527.6,1072L521.2,1061Z" fill="url(#gPlate)"/>
<path d="M521.2,1058.3L790.8,1058.3" stroke="#fff0a8" stroke-width="1.2"/>
<path d="M527.6,1071.6L784.4,1071.6" stroke="#8a5a10" stroke-width="1.3"/>
<path d="M651,1040L661,1040L663.5,1057.8L667.5,1060L667.5,1072L645.5,1072L645.5,1060L648.5,1057.8Z" fill="#efc870"/>
<path d="M652,1041L655.5,1041L655,1072L649.5,1072Z" fill="#fdea9c" opacity="0.9"/>
<path d="M661,1058L667.5,1060L667.5,1072L662,1072Z" fill="#c9972f" opacity="0.8"/>
<rect x="526.2" y="1050.4" width="259.6" height="7.6" fill="#e9c77a"/>
<rect x="526.2" y="1050.4" width="259.6" height="1.2" fill="#d8b060"/>
<g filter="url(#rb05)">
<ellipse cx="532.4" cy="1054.4" rx="4.4" ry="3.4" fill="#c3cfde"/>
<ellipse cx="531.2" cy="1053.6" rx="2.2" ry="1.6" fill="#ffffff"/>
<circle cx="533.8" cy="1055.2" r="1.0" fill="#66758a"/>
<ellipse cx="547.7" cy="1054.4" rx="4.4" ry="3.4" fill="#c3cfde"/>
<ellipse cx="546.5" cy="1053.6" rx="2.2" ry="1.6" fill="#ffffff"/>
<circle cx="549.1" cy="1055.2" r="1.0" fill="#66758a"/>
<ellipse cx="563.8" cy="1054.4" rx="4.4" ry="3.4" fill="#c3cfde"/>
<ellipse cx="562.6" cy="1053.6" rx="2.2" ry="1.6" fill="#ffffff"/>
<circle cx="565.2" cy="1055.2" r="1.0" fill="#66758a"/>
<ellipse cx="580.8" cy="1054.4" rx="4.4" ry="3.4" fill="#c3cfde"/>
<ellipse cx="579.6" cy="1053.6" rx="2.2" ry="1.6" fill="#ffffff"/>
<circle cx="582.2" cy="1055.2" r="1.0" fill="#66758a"/>
<ellipse cx="599.4" cy="1054.4" rx="4.4" ry="3.4" fill="#c3cfde"/>
<ellipse cx="598.2" cy="1053.6" rx="2.2" ry="1.6" fill="#ffffff"/>
<circle cx="600.8" cy="1055.2" r="1.0" fill="#66758a"/>
<ellipse cx="618.9" cy="1054.4" rx="4.4" ry="3.4" fill="#c3cfde"/>
<ellipse cx="617.7" cy="1053.6" rx="2.2" ry="1.6" fill="#ffffff"/>
<circle cx="620.3" cy="1055.2" r="1.0" fill="#66758a"/>
<ellipse cx="641.7" cy="1054.4" rx="4.4" ry="3.4" fill="#c3cfde"/>
<ellipse cx="640.5" cy="1053.6" rx="2.2" ry="1.6" fill="#ffffff"/>
<circle cx="643.1" cy="1055.2" r="1.0" fill="#66758a"/>
<ellipse cx="779.6" cy="1054.4" rx="4.4" ry="3.4" fill="#c3cfde"/>
<ellipse cx="778.4" cy="1053.6" rx="2.2" ry="1.6" fill="#ffffff"/>
<circle cx="781.0" cy="1055.2" r="1.0" fill="#66758a"/>
<ellipse cx="764.3" cy="1054.4" rx="4.4" ry="3.4" fill="#c3cfde"/>
<ellipse cx="763.1" cy="1053.6" rx="2.2" ry="1.6" fill="#ffffff"/>
<circle cx="765.7" cy="1055.2" r="1.0" fill="#66758a"/>
<ellipse cx="748.2" cy="1054.4" rx="4.4" ry="3.4" fill="#c3cfde"/>
<ellipse cx="747.0" cy="1053.6" rx="2.2" ry="1.6" fill="#ffffff"/>
<circle cx="749.6" cy="1055.2" r="1.0" fill="#66758a"/>
<ellipse cx="731.2" cy="1054.4" rx="4.4" ry="3.4" fill="#c3cfde"/>
<ellipse cx="730.0" cy="1053.6" rx="2.2" ry="1.6" fill="#ffffff"/>
<circle cx="732.6" cy="1055.2" r="1.0" fill="#66758a"/>
<ellipse cx="712.6" cy="1054.4" rx="4.4" ry="3.4" fill="#c3cfde"/>
<ellipse cx="711.4" cy="1053.6" rx="2.2" ry="1.6" fill="#ffffff"/>
<circle cx="714.0" cy="1055.2" r="1.0" fill="#66758a"/>
<ellipse cx="693.1" cy="1054.4" rx="4.4" ry="3.4" fill="#c3cfde"/>
<ellipse cx="691.9" cy="1053.6" rx="2.2" ry="1.6" fill="#ffffff"/>
<circle cx="694.5" cy="1055.2" r="1.0" fill="#66758a"/>
<ellipse cx="670.3" cy="1054.4" rx="4.4" ry="3.4" fill="#c3cfde"/>
<ellipse cx="669.1" cy="1053.6" rx="2.2" ry="1.6" fill="#ffffff"/>
<circle cx="671.7" cy="1055.2" r="1.0" fill="#66758a"/>
<rect x="537.4" y="1051.6" width="5.2" height="5.4" fill="#fbe394"/>
<rect x="553.1" y="1051.6" width="5.2" height="5.4" fill="#fbe394"/>
<rect x="569.7" y="1051.6" width="5.2" height="5.4" fill="#fbe394"/>
<rect x="587.5" y="1051.6" width="5.2" height="5.4" fill="#fbe394"/>
<rect x="606.5" y="1051.6" width="5.2" height="5.4" fill="#fbe394"/>
<rect x="627.7" y="1051.6" width="5.2" height="5.4" fill="#fbe394"/>
<rect x="679.1" y="1051.6" width="5.2" height="5.4" fill="#fbe394"/>
<rect x="700.2" y="1051.6" width="5.2" height="5.4" fill="#fbe394"/>
<rect x="719.3" y="1051.6" width="5.2" height="5.4" fill="#fbe394"/>
<rect x="737.1" y="1051.6" width="5.2" height="5.4" fill="#fbe394"/>
<rect x="753.6" y="1051.6" width="5.2" height="5.4" fill="#fbe394"/>
<rect x="769.4" y="1051.6" width="5.2" height="5.4" fill="#fbe394"/>
</g>
<rect x="546.9" y="1039.2" width="218.4" height="11.4" fill="url(#gComb)"/>
<rect x="549.8" y="1023.6" width="101.0" height="16.2" fill="url(#gComb)"/>
<rect x="660.4" y="1023.6" width="102.2" height="16.2" fill="url(#gComb)"/>
<rect x="549.8" y="1023.6" width="101.0" height="1.2" fill="#fdf0b0" opacity="0.7"/>
<rect x="660.4" y="1023.6" width="102.2" height="1.2" fill="#f8da86" opacity="0.7"/>
<g fill="url(#gSlot)">
<rect x="556.2" y="1025.2" width="4.8" height="14.2"/>
<rect x="571.0" y="1025.2" width="5.0" height="14.2"/>
<rect x="585.0" y="1025.2" width="5.0" height="14.2"/>
<rect x="599.2" y="1025.2" width="5.6" height="14.2"/>
<rect x="615.2" y="1025.2" width="6.4" height="14.2"/>
<rect x="634.8" y="1025.2" width="6.2" height="14.2"/>
<rect x="671.6" y="1025.2" width="5.4" height="14.2"/>
<rect x="690.6" y="1025.2" width="5.8" height="14.2"/>
<rect x="708.0" y="1025.2" width="5.2" height="14.2"/>
<rect x="722.6" y="1025.2" width="5.0" height="14.2"/>
<rect x="737.4" y="1025.2" width="5.0" height="14.2"/>
<rect x="751.4" y="1025.2" width="4.6" height="14.2"/>
</g>
<use href="#smdia" x="651.2" y="1031.6" width="9" height="9"/>
</g>
<circle cx="656.0" cy="1362.5" r="197.1" fill="#ffffff"/>
</svg>
</body></html>
